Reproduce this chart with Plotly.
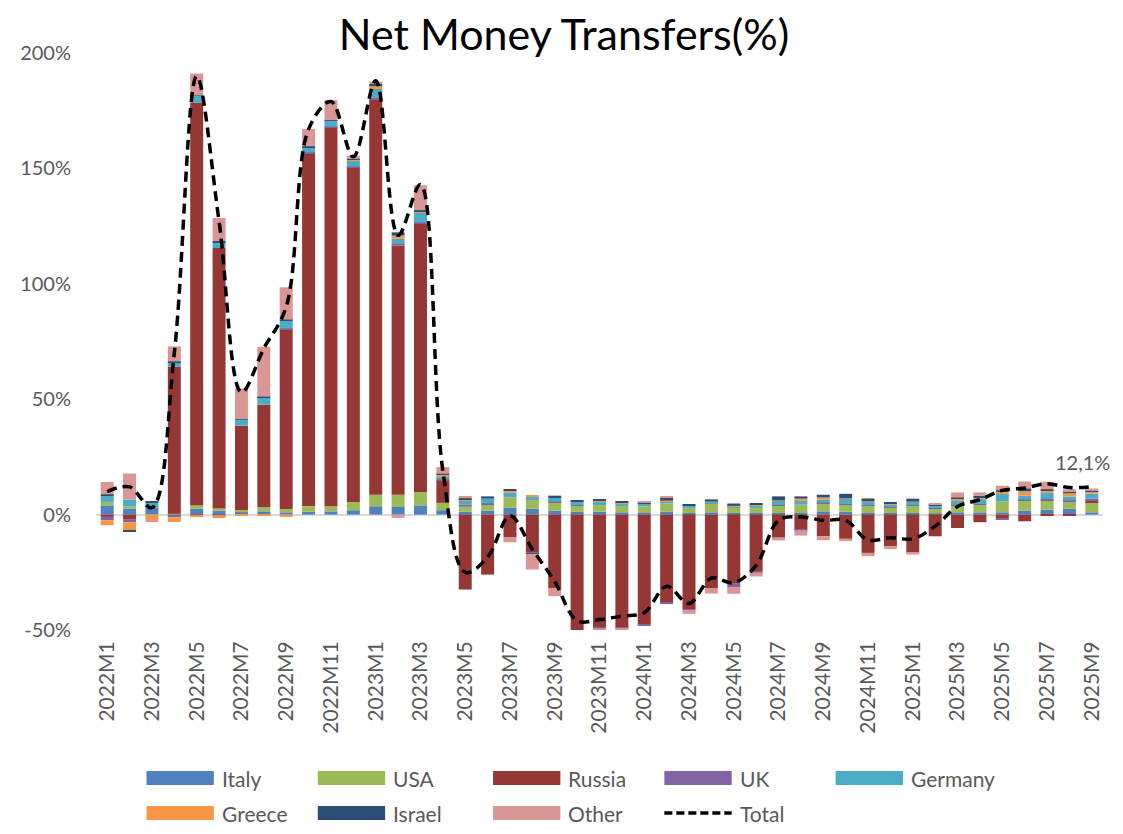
import plotly.graph_objects as go

months = [f"{y}M{m}" for y in (2022, 2023, 2024) for m in range(1, 13)] + [f"2025M{m}" for m in range(1, 10)]

italy = [4, 2.5, 3, 0.2, 2.5, 1.7, 1.1, 1.4, 1, 1.2, 1.4, 1.9, 3.6, 3.3, 4, 1.9, 1.2, 1.7, 2.9, 2.5, 1.7, 1.2, 1.3, 1,
         1, 1.2, 0.7, 1, 0.7, 0.7, 0.7, 0.7, 1.4, 1.2, 0.7, 0.7, 0.7, 0.5, 1, 1, 1, 1.7, 2.2, 2.5, 1]
usa = [1.5, 1, 0.3, 0.2, 1.6, 0.9, 0.9, 1.9, 1.4, 2.5, 2.2, 3.6, 5, 5.3, 5.8, 3.2, 2.2, 2.3, 4.6, 3.8, 3.6, 2.7, 2.8, 2.7,
       2.6, 3.6, 2.2, 3.6, 2.2, 2.2, 3.3, 3.6, 3.6, 3.2, 3.2, 2.2, 3.2, 2, 3, 3.3, 4.8, 4.5, 4, 2.8, 4]
russia = [-1, -2.2, 0, 63.8, 174.4, 112.9, 36.5, 44.3, 78, 152.9, 164.2, 145, 171, 108, 116.5, 9.7, -32.5, -26, -9.7, -16.6,
          -32, -50.2, -48.8, -49, -47.6, -38.2, -41, -32, -30, -24.5, -10, -6.5, -9.4, -10.5, -16.6, -13.7, -16.6, -9.4,
          -5.8, -3.3, -1.7, -2.9, -0.2, -0.2, 1.2]
uk = [-1.4, -1.1, 0, -1.2, -0.4, -0.3, 0, 0, 0.3, 0.3, 0.3, 0.3, 1.2, 1, 0.3, 0.5, 1, 1, 0, -0.2, 0.3, 0.2, -0.5, -0.3,
      -0.5, -0.5, -0.3, 0.2, -1.6, -0.6, 0.2, -0.3, 0.2, 0.2, 0.2, 0.3, 0.2, 0.5, 0.2, 0.3, -0.5, 0.3, 0.5, 1, 0.7]
germany = [2.6, 3, 1.8, 1.9, 2.9, 2.6, 2.6, 3.3, 3.3, 2.2, 2.6, 2.5, 3.6, 1.9, 4.3, 1.4, 1.9, 1.9, 1.9, 1.7, 1.6, 1.4, 1.6,
           1.3, 1, 1, 1, 0.7, 0.7, 1, 1.7, 1.9, 1.2, 2.2, 1.4, 1, 1.4, 0.8, 1.7, 2.2, 3.3, 1.7, 2.7, 1.5, 2.2]
greece = [-2.2, -3.5, -2.5, -2, -0.5, -1.2, -0.5, -0.3, -1, 0, 0, 0.5, 1.2, 1.4, 0.3, 0.5, 0.3, 0, 1.2, 0.5, 0.3, 0.3, 0.2,
          0.4, 0.2, 0.3, 0.2, 0.2, 0.2, 0.5, 0.3, 0.7, 1, 0.3, 0.3, 0.4, 0.2, 0.2, 1.2, 0.7, 0.7, 1.9, 0.9, 1.4, 1]
israel = [0.7, -0.4, 0.7, 0.3, 0.2, 0.4, 0.2, 0.2, 0.5, 0.5, 0.2, 0.3, 1, 1.4, 0.7, 0.5, 0.5, 1, 0.3, -0.2, 0.7, 0.5, 0.5,
          0.4, 0.5, 1.2, 0.5, 0.9, 1, 0.5, 1.7, 1, 1.2, 1.9, 1.2, 0.5, 1.2, 0.2, 0.3, 0.7, 0.7, 1.3, 0.7, 1, 0.5]
other = [5.3, 11.3, -0.3, 6.5, 9.5, 10, 13.3, 21.6, 14, 7.5, 8.7, 1.4, 1, -1.4, 10.8, 2.9, 1, 0, -2.3, -6.8, -3.3, -0.4,
         -1.3, -0.8, 0.6, 0.6, -1.7, -2.2, -2.7, -1.7, -1.2, -2.3, -1.7, -1, -1.4, -1.2, -0.7, 0.7, 2.2, 1.4, 2, 2.9,
         3.2, 0.8, 0.7]
total = [10, 12, 3, 70, 190, 127, 53, 72, 90, 167, 179, 155, 188, 121, 143, 19, -25, -18.5, -0.5, -15, -29, -46, -45.5,
         -44, -42.5, -31, -38.5, -27.5, -29.5, -22, -2.5, -1, -2.5, -2.5, -11, -10, -10.5, -5, 3.5, 6.5, 10.5, 11.5,
         13.4, 11.7, 12.1]

series = [
    ("Italy", italy, "#4F81BD"),
    ("USA", usa, "#9BBB59"),
    ("Russia", russia, "#953735"),
    ("UK", uk, "#8064A2"),
    ("Germany", germany, "#4BACC6"),
    ("Greece", greece, "#F79646"),
    ("Israel", israel, "#2C4D75"),
    ("Other", other, "#D99694"),
]
tick_vals = [-50, 0, 50, 100, 150, 200]
tick_text = ["-50%", "0%", "50%", "100%", "150%", "200%"]

FONT = "Lato, 'Open Sans', sans-serif"
GREY = "#595959"

fig = go.Figure()
for name, vals, col in series:
    fig.add_trace(go.Bar(x=months, y=vals, name=name, marker=dict(color=col, line=dict(width=0)),
                         showlegend=False))
fig.add_trace(go.Scatter(x=months, y=total, name="Total", mode="lines",
                         line=dict(color="black", width=3.5, dash="10px,6px", shape="spline", smoothing=1.0),
                         showlegend=False))

# page body has an 8px margin: figure coords = screen coords - 8
OFF = 8
W, H = 1107, 818
L, R, T, B = 78, 12, 45, 196
pw, ph = W - L - R, H - T - B


def px(sx):
    return (sx - OFF - L) / pw


def py(sy):
    return (H - B - (sy - OFF)) / ph


shapes = []
annotations = []
legend_items = [("Italy", 137, 778), ("USA", 310, 778), ("Russia", 487, 778), ("UK", 660, 778), ("Germany", 833, 778),
                ("Greece", 137, 813), ("Israel", 310, 813), ("Other", 487, 813), ("Total", 660, 813)]
colors = {n: c for n, _, c in series}
for name, x0, yc in legend_items:
    if name == "Total":
        shapes.append(dict(type="line", xref="paper", yref="paper", x0=px(x0), x1=px(x0 + 68), y0=py(yc), y1=py(yc),
                           line=dict(color="black", width=3.5, dash="8px,4px")))
    else:
        shapes.append(dict(type="rect", xref="paper", yref="paper", x0=px(x0), x1=px(x0 + 68), y0=py(yc - 7),
                           y1=py(yc + 7), fillcolor=colors[name], line=dict(width=0)))
    annotations.append(dict(text=name, xref="paper", yref="paper", x=px(x0 + 74), y=py(yc), xanchor="left",
                            yanchor="middle", showarrow=False, font=dict(family=FONT, size=21, color=GREY)))

last_label = f"{total[-1]:.1f}".replace(".", ",") + "%"
annotations.append(dict(text=last_label, x=months[-1], y=total[-1], xref="x", yref="y", showarrow=False,
                        xanchor="center", yanchor="middle", yshift=25, xshift=-9,
                        font=dict(family=FONT, size=20, color=GREY)))

fig.update_layout(
    width=W, height=H,
    margin=dict(l=L, r=R, t=T, b=B),
    barmode="relative",
    bargap=0.42,
    plot_bgcolor="white", paper_bgcolor="white",
    title=dict(text="Net Money Transfers(%)", x=(564 - OFF) / W, xref="container", xanchor="center",
               y=1 - (35 - OFF) / H, yref="container", yanchor="middle",
               font=dict(family=FONT, size=43, color="black")),
    font=dict(family=FONT, color=GREY),
    shapes=shapes,
    annotations=annotations,
    showlegend=False,
)
fig.update_xaxes(type="category", range=[-0.5, len(months) - 0.5], tickvals=months[::2], tickangle=-90,
                 tickfont=dict(family=FONT, size=21, color=GREY), showgrid=False, showline=False, ticks="",
                 ticklabelstandoff=6)
fig.update_yaxes(range=[-50, 200], tickvals=tick_vals, ticktext=tick_text, showgrid=False, showline=False,
                 zeroline=True, zerolinecolor="#D9D9D9", zerolinewidth=2, ticks="",
                 tickfont=dict(family=FONT, size=20, color=GREY), ticklabelstandoff=24)

fig.write_html("out.html")
